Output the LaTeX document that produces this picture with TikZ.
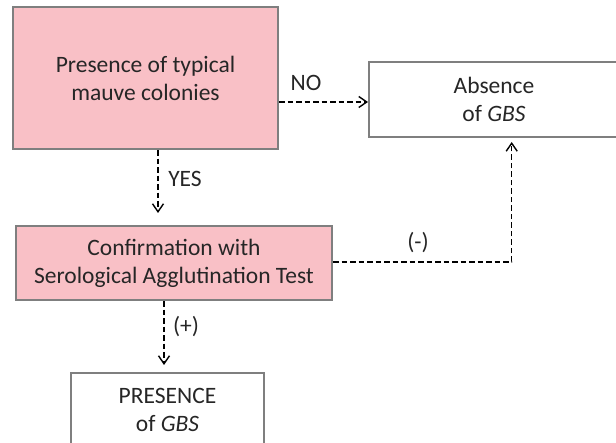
\documentclass[tikz,border=0pt]{standalone}
\usepackage{fontspec}
\setmainfont{Carlito}
\usetikzlibrary{arrows.meta}
\definecolor{boxpink}{HTML}{F9C0C6}
\definecolor{boxgray}{HTML}{7F7F7F}
\definecolor{txt}{HTML}{262626}
\begin{document}
\begin{tikzpicture}[x=1pt,y=-1pt,
  box/.style={draw=boxgray,line width=2.4pt,align=center,inner sep=0pt,
    font=\fontsize{23.5}{28}\selectfont,text=txt},
  pinkbox/.style={box,fill=boxpink},
  whitebox/.style={box,fill=white},
  arr/.style={draw=black,line width=1.4pt,dash pattern=on 5.5pt off 3pt,
    -{Straight Barb[length=8pt,width=11pt,line width=1.4pt]}},
  lbl/.style={font=\fontsize{23.5}{28}\selectfont,text=txt,inner sep=0pt}]
\useasboundingbox (0,0) rectangle (616,443);
\node[pinkbox,minimum width=265pt,minimum height=142pt] (col) at (145.5,78) {Presence of typical\\mauve colonies};
\node[whitebox,minimum width=250pt,minimum height=75pt] (abs) at (494,99.5) {Absence\\of \textit{GBS}};
\node[pinkbox,minimum width=316pt,minimum height=74pt] (conf) at (174,263) {Confirmation with\\Serological Agglutination Test};
\node[whitebox,minimum width=193pt,minimum height=74pt] (pres) at (167.5,410) {PRESENCE\\of \textit{GBS}};

\coordinate (notip) at (368,102);
\coordinate (yestip) at (158,213);
\coordinate (negcorner) at (511.7,262);
\coordinate (negtip) at (511.7,142);
\coordinate (postip) at (164,365);

\draw[arr] (col.east |- notip) -- (notip);
\draw[arr] (col.south -| yestip) -- (yestip);
\draw[arr] (conf.east |- negcorner) -- (negcorner) -- (negtip);
\draw[arr] (conf.south -| postip) -- (postip);

\node[lbl] (nolbl) at (306,83) {NO};
\node[lbl] (yeslbl) at (185,179) {YES};
\node[lbl] (poslbl) at (186,327) {(+)};
\node[lbl] (neglbl) at (418,243) {(-)};
\end{tikzpicture}
\end{document}
